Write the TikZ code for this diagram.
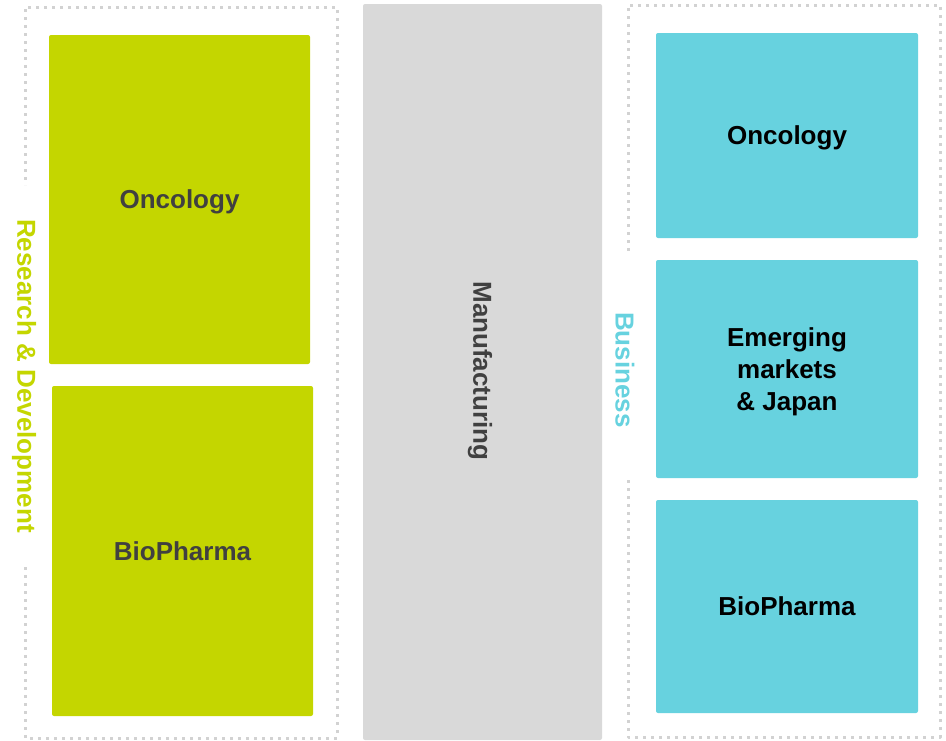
\documentclass[tikz,border=0pt]{standalone}
\usepackage{fontspec}
\setmainfont{Liberation Sans}
\definecolor{rdgreen}{HTML}{C4D600}
\definecolor{bizcyan}{HTML}{67D2DF}
\definecolor{mfgray}{HTML}{D9D9D9}
\definecolor{dotgray}{HTML}{D2D2D2}
\definecolor{txtgray}{HTML}{404040}
\begin{document}
\begin{tikzpicture}[x=1pt,y=-1pt,line join=round,
  font=\fontsize{26}{32}\selectfont\bfseries,
  unit/.style={rounded corners=2pt,inner sep=0pt,align=center},
  rdbox/.style={unit,fill=rdgreen,text=txtgray,text depth=0pt,
    minimum width=261,minimum height=#1},
  bizbox/.style={unit,fill=bizcyan,text=black,minimum width=262,minimum height=#1},
  frame/.style={draw=dotgray,line width=3pt,dash pattern=on 3pt off 5pt},
  side/.style={rotate=-90,inner sep=0pt}]
  \useasboundingbox (0,0) rectangle (946,740);
  % dotted frames, left side left open for the labels
  \draw[frame] (25,567) -- (25,738) -- (337,738) -- (337,7) -- (25,7) -- (25,185);
  \draw[frame] (628,480) -- (628,737) -- (940,737) -- (940,5) -- (628,5) -- (628,255);
  \node[side,text=rdgreen] (rdlabel) at (24,376) {Research \& Development};
  \node[side,text=bizcyan] (bizlabel) at (625,370) {Business};
  % research units
  \node[rdbox=329] (rdonc) at (179.5,199.5) {Oncology};
  \node[rdbox=330] (rdbio) at (182.5,551) {BioPharma};
  % shared manufacturing column
  \node[unit,fill=mfgray,minimum width=239,minimum height=736] (mfg) at (482.5,372) {};
  \node[side,text=txtgray] (mfglabel) at (480,371) {Manufacturing};
  % business units
  \node[bizbox=205,text depth=0pt] (bizonc) at (787,135.5) {Oncology};
  \node[bizbox=218] (bizem) at (787,369) {};
  \node[align=center,inner sep=0pt] (bizemtext) at (787,372) {Emerging\\markets\\\& Japan};
  \node[bizbox=213,text depth=0pt] (bizbio) at (787,606.5) {BioPharma};
\end{tikzpicture}
\end{document}
